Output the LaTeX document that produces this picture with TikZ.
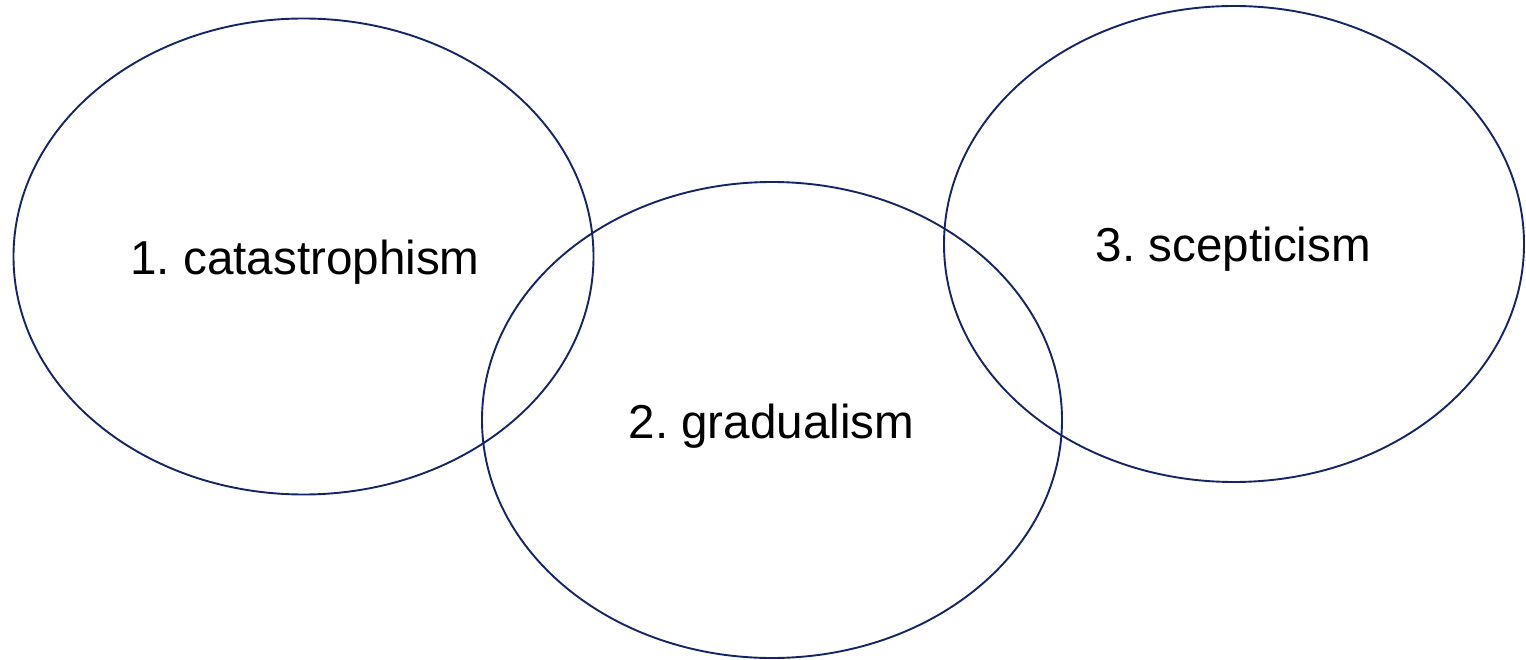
\documentclass[tikz,border=0pt]{standalone}
\usepackage{fontspec}
\setmainfont{Liberation Sans}
\usetikzlibrary{shapes.geometric}
\definecolor{navy}{RGB}{20,36,100}
\frenchspacing
\begin{document}
\begin{tikzpicture}[x=1pt,y=-1pt,
  circ/.style={ellipse,draw=navy,line width=1.9pt,inner sep=0pt,minimum width=580pt,minimum height=476pt},
  lbl/.style={anchor=base,font=\fontsize{47.6}{56}\selectfont,text=black,inner sep=0pt}]
\useasboundingbox (0,0) rectangle (1526,660);
\node[circ] (e1) at (303.5,256.5) {};
\node[circ] (e2) at (772,420) {};
\node[circ] (e3) at (1234,244) {};
\node[lbl] (t1) at (305,275) {1. catastrophism};
\node[lbl] (t2) at (771.5,438) {2. gradualism};
\node[lbl] (t3) at (1233.5,261.5) {3. scepticism};
\end{tikzpicture}
\end{document}
